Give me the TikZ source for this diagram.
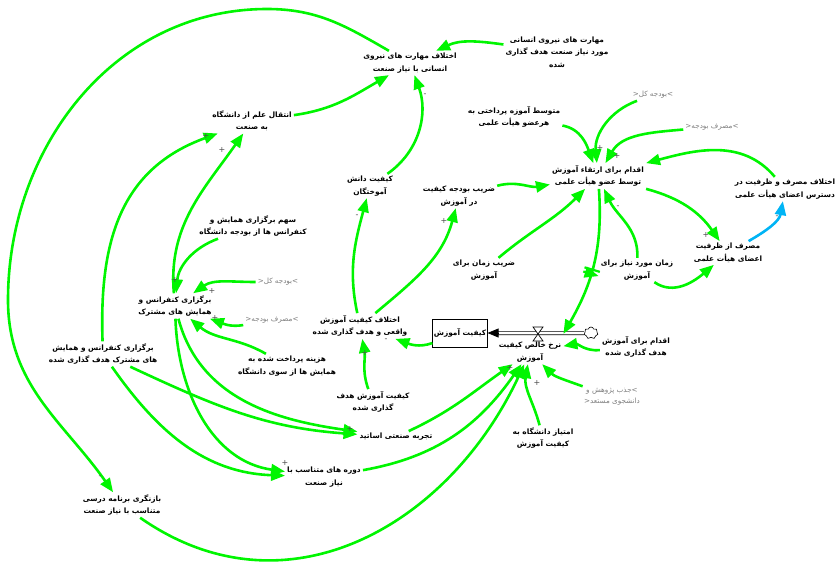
\documentclass[tikz,border=0pt]{standalone}
\usepackage{fontspec}
\setmainfont{DejaVu Sans}
\newfontfamily\fafont[Script=Arabic]{DejaVu Sans}
\TeXXeTstate=1
\usetikzlibrary{arrows.meta,shapes.symbols,decorations.markings}
\newcommand{\prs}[1]{\beginR #1\endR}
\definecolor{lgreen}{RGB}{0,245,0}
\definecolor{lblue}{RGB}{0,180,245}
\definecolor{shadowgray}{RGB}{125,125,125}
\begin{document}
\begin{tikzpicture}[x=1pt,y=1pt,
  var/.style={font=\fafont\bfseries\fontsize{7.4}{12.5}\selectfont, align=center, inner sep=2pt},
  gvar/.style={font=\fafont\fontsize{7.2}{11}\selectfont, text=shadowgray, align=center, inner sep=2pt},
  link/.style={draw=lgreen, line width=2.6pt, -{Triangle[length=14pt,width=11pt]}},
  blink/.style={link, draw=lblue},
  sgn/.style={font=\fontsize{8}{8}\selectfont, text=black!70, inner sep=0pt},
  stockbox/.style={draw=black, line width=0.8pt, minimum width=54pt, minimum height=28pt, font=\fafont\bfseries\fontsize{7.4}{9}\selectfont, inner sep=1pt},
  pipe/.style={draw=black, line width=0.7pt, double=white, double distance=2.6pt},
  delaymark/.style={postaction={decorate, decoration={markings, mark=at position #1 with {\draw[lgreen, line width=2.2pt] (-2.2pt,-8pt) -- (-2.2pt,8pt) (2.2pt,-8pt) -- (2.2pt,8pt);}}}}
]
\useasboundingbox (0,0) rectangle (840,-562);

% ---------- variables ----------
\node[var] (ekhMah) at (410,-63) {\prs{اختلاف مهارت های نیروی}\\\prs{انسانی با نیاز صنعت}};
\node[var] (mahTarget) at (557,-52) {\prs{مهارت های نیروی انسانی}\\\prs{مورد نیاز صنعت هدف گذاری}\\\prs{شده}};
\node[var] (enteghal) at (252,-121) {\prs{انتقال علم از دانشگاه}\\\prs{به صنعت}};
\node[var] (keyDanesh) at (370,-186) {\prs{کیفیت دانش}\\\prs{آموختگان}};
\node[var] (zaribBud) at (459,-196) {\prs{ضریب بودجه کیفیت}\\\prs{در آموزش}};
\node[var] (motavaset) at (514,-117) {\prs{متوسط آموزه پرداختی به}\\\prs{هرعضو هیأت علمی}};
\node[var] (eghdam) at (598,-176) {\prs{اقدام برای ارتقاء آموزش}\\\prs{توسط عضو هیأت علمی}};
\node[gvar] (g1top) at (653,-95) {<\prs{بودجه کل}>};
\node[gvar] (g2top) at (712,-127) {<\prs{مصرف بودجه}>};
\node[var] (ekhMasraf) at (785,-189) {\prs{اختلاف مصرف و ظرفیت در}\\\prs{دسترس اعضای هیأت علمی}};
\node[var] (masraf) at (728,-253) {\prs{مصرف از ظرفیت}\\\prs{اعضای هیأت علمی}};
\node[var] (zamanMored) at (637,-270) {\prs{زمان مورد نیاز برای}\\\prs{آموزش}};
\node[var] (zaribZaman) at (484,-270) {\prs{ضریب زمان برای}\\\prs{آموزش}};
\node[stockbox] (stock) at (460,-333) {\prs{کیفیت آموزش}};
\node[var] (rate) at (530,-352) {\prs{نرخ خالص کیفیت}\\\prs{آموزش}};
\node[cloud, draw=black, line width=0.6pt, cloud puffs=7, minimum width=14pt, minimum height=12pt, inner sep=0pt, fill=white] (cloud) at (591,-333) {};
\node[var] (eghTarget) at (636,-347) {\prs{اقدام برای آموزش}\\\prs{هدف گذاری شده}};
\node[gvar] (g3) at (612,-397) {\prs{جذب پژوهش و}>\\<\prs{دانشجوی مستعد}};
\node[var] (emtiaz) at (543,-438) {\prs{امتیاز دانشگاه به}\\\prs{کیفیت آموزش}};
\node[var] (ekhKey) at (360,-326) {\prs{اختلاف کیفیت آموزش}\\\prs{واقعی و هدف گذاری شده}};
\node[var] (keyTarget) at (373,-402) {\prs{کیفیت آموزش هدف}\\\prs{گذاری شده}};
\node[var] (sahm) at (253,-226) {\prs{سهم برگزاری همایش و}\\\prs{کنفرانس ها از بودجه دانشگاه}};
\node[var] (bargozari) at (175,-306) {\prs{برگزاری کنفرانس و}\\\prs{همایش های مشترک}};
\node[gvar] (g1left) at (278,-282) {<\prs{بودجه کل}>};
\node[gvar] (g2left) at (272,-320) {<\prs{مصرف بودجه}>};
\node[var] (hazineh) at (287,-366) {\prs{هزینه پرداخت شده به}\\\prs{همایش ها از سوی دانشگاه}};
\node[var] (bargTarget) at (103,-354) {\prs{برگزاری کنفرانس و همایش}\\\prs{های مشترک هدف گذاری شده}};
\node[var] (tajrobe) at (396,-437) {\prs{تجربه صنعتی اساتید}};
\node[var] (doreh) at (324,-477) {\prs{دوره های متناسب با}\\\prs{نیاز صنعت}};
\node[var] (baznegari) at (122,-505) {\prs{بازنگری برنامه درسی}\\\prs{متناسب با نیاز صنعت}};

% ---------- flow ----------
\draw[pipe] (cloud.west) -- ([xshift=10pt]stock.east);
\draw[line width=0.7pt, -{Triangle[length=11pt,width=9pt]}] ([xshift=11pt]stock.east) -- (stock.east);
\coordinate (valve) at (538,-334);
\draw[fill=white, line width=0.7pt] ([shift={(-5,7)}]valve) -- ([shift={(5,7)}]valve) -- ([shift={(-5,-7)}]valve) -- ([shift={(5,-7)}]valve) -- cycle;

% ---------- links ----------
\draw[link] (ekhMah) to[out=150,in=0] (267,-9) to[out=180,in=90] (8,-300) to[out=-90,in=125] (baznegari);
\draw[link] (enteghal) to[out=8,in=210] (ekhMah);
\draw[link] (keyDanesh) to[out=35,in=-70] (ekhMah);
\draw[link] (mahTarget) to[out=172,in=25] (ekhMah);
\draw[link] (bargTarget) to[out=92,in=200,looseness=1.1] (enteghal);
\draw[link] (bargozari) to[out=95,in=235] (enteghal);
\draw[link] (sahm) to[out=200,in=85] (bargozari);
\draw[link] (g1left) to[out=180,in=35] (bargozari);
\draw[link] (g2left) to[out=190,in=-20] (bargozari);
\draw[link] (hazineh) to[out=150,in=-40] (bargozari);
\draw[link] (bargozari) to[out=-75,in=172] (tajrobe);
\draw[link] (bargTarget) to[out=-25,in=176] (tajrobe);
\draw[link] (bargozari) to[out=-88,in=172] (doreh);
\draw[link] (bargTarget) to[out=-55,in=178] (doreh);
\draw[link] (baznegari) to[out=-35,in=245,looseness=1.1] (rate);
\draw[link] (tajrobe) to[out=25,in=215] (rate);
\draw[link] (doreh) to[out=10,in=235] (rate);
\draw[link] (emtiaz) to[out=105,in=-100] (rate);
\draw[link] (g3) to[out=160,in=-45] (rate);
\draw[link] (eghTarget) to[out=185,in=10] (rate);
\draw[link, delaymark=0.55] (eghdam) to[out=-86,in=60] ([yshift=6pt]rate.north east);
\draw[link] (zaribZaman) to[out=40,in=225] (eghdam);
\draw[link] (zamanMored) to[out=88,in=-65] (eghdam);
\draw[link] (zamanMored) to[out=-35,in=220] (masraf);
\draw[link] (eghdam) to[out=-15,in=125] (masraf);
\draw[blink] (masraf) to[out=30,in=-100] (ekhMasraf);
\draw[link] (ekhMasraf) to[out=130,in=15] (eghdam);
\draw[link] (motavaset) to[out=-10,in=110] (eghdam);
\draw[link] (g1top) to[out=200,in=95] (eghdam);
\draw[link] (g2top) to[out=185,in=60] (eghdam);
\draw[link] (zaribBud) to[out=15,in=190] (eghdam);
\draw[link] (ekhKey) to[out=102,in=-105] (keyDanesh);
\draw[link] (ekhKey) to[out=40,in=-105] (zaribBud);
\draw[link] (keyTarget) to[out=110,in=-80] (ekhKey);
\draw[link] (stock) to[out=200,in=-20] (ekhKey);

% ---------- polarity signs ----------
\node[sgn] (sA) at (100,-477) {-};
\node[sgn] (sB) at (377,-79) {-};
\node[sgn] (sC) at (425,-95) {-};
\node[sgn] (sE1) at (206,-136) {+};
\node[sgn] (sE2) at (222,-150) {+};
\node[sgn] (sF) at (175,-280) {+};
\node[sgn] (sG) at (212,-291) {+};
\node[sgn] (sH) at (215,-318) {+};
\node[sgn] (sJ) at (350,-429) {+};
\node[sgn] (sK) at (285,-463) {+};
\node[sgn] (sAE) at (365,-353) {+};
\node[sgn] (sAF) at (386,-340) {-};
\node[sgn] (sAC) at (357,-216) {-};
\node[sgn] (sAD) at (444,-221) {+};
\node[sgn] (sY) at (600,-148) {+};
\node[sgn] (sAA) at (617,-156) {+};
\node[sgn] (sT) at (618,-207) {-};
\node[sgn] (sV) at (706,-235) {+};
\node[sgn] (sW) at (777,-217) {-};
\node[sgn] (sR1) at (510,-368) {+};
\node[sgn] (sO) at (537,-383) {+};
\end{tikzpicture}
\end{document}
